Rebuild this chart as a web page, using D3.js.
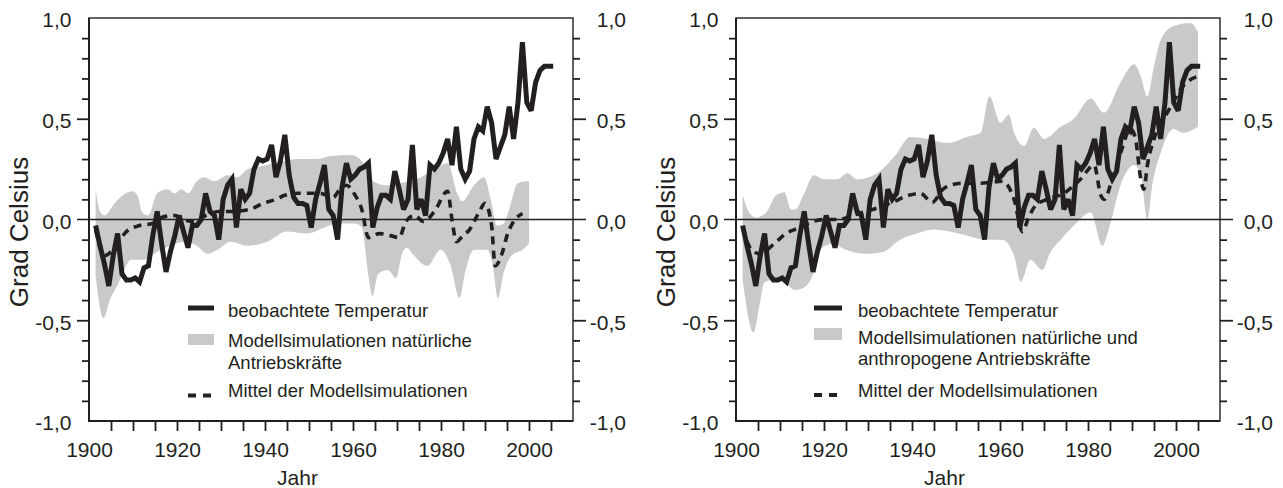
<!DOCTYPE html>
<html>
<head>
<meta charset="utf-8">
<script src="https://cdn.jsdelivr.net/npm/d3@7"></script>
<style>
body { margin: 0; background: #fff; }
text { font-family: Arial, "Liberation Sans", sans-serif; fill: #231f20; }
</style>
</head>
<body>
<svg id="chart" width="1283" height="488"></svg>
<script>
const obsYears = [
  1901, 1902, 1903, 1904, 1905, 1906, 1907, 1908, 1909, 1910,
  1911, 1912, 1913, 1914, 1915, 1916, 1917, 1918, 1919, 1920,
  1921, 1922, 1923, 1924, 1925, 1926, 1927, 1928, 1929, 1930,
  1931, 1932, 1933, 1934, 1935, 1936, 1937, 1938, 1939, 1940,
  1941, 1942, 1943, 1944, 1945, 1946, 1947, 1948, 1949, 1950,
  1951, 1952, 1953, 1954, 1955, 1956, 1957, 1958, 1959, 1960,
  1961, 1962, 1963, 1964, 1965, 1966, 1967, 1968, 1969, 1970,
  1971, 1972, 1973, 1974, 1975, 1976, 1977, 1978, 1979, 1980,
  1981, 1982, 1983, 1984, 1985, 1986, 1987, 1988, 1989, 1990,
  1991, 1992, 1993, 1994, 1995, 1996, 1997, 1998, 1999, 2000,
  2001, 2002, 2003, 2004, 2005
]
const obsTemp = [
  -0.03, -0.13, -0.22, -0.33, -0.18, -0.07, -0.27, -0.30, -0.30, -0.29,
  -0.31, -0.24, -0.23, -0.08, 0.04, -0.12, -0.26, -0.16, -0.08, 0.02,
  -0.06, -0.14, -0.03, -0.03, 0.00, 0.13, 0.04, 0.02, -0.10, 0.10,
  0.17, 0.20, -0.04, 0.15, 0.10, 0.13, 0.25, 0.30, 0.29, 0.30,
  0.37, 0.21, 0.29, 0.42, 0.22, 0.11, 0.08, 0.08, 0.07, -0.04,
  0.10, 0.18, 0.27, 0.05, 0.02, -0.10, 0.16, 0.28, 0.20, 0.22,
  0.25, 0.26, 0.28, -0.04, 0.06, 0.12, 0.12, 0.10, 0.24, 0.15,
  0.05, 0.10, 0.37, 0.05, 0.10, 0.02, 0.27, 0.25, 0.28, 0.33,
  0.40, 0.27, 0.46, 0.25, 0.20, 0.24, 0.40, 0.46, 0.44, 0.56,
  0.48, 0.30, 0.36, 0.42, 0.56, 0.40, 0.58, 0.88, 0.58, 0.54,
  0.68, 0.74, 0.76, 0.76, 0.76
]

// natural forcing only: range of simulations and their mean
const natUpperYears = [1901, 1902, 1903, 1905.5, 1907.5, 1909.3, 1910.5, 1911.6, 1913, 1915, 1917.3, 1919, 1920.5, 1922, 1924, 1925.6, 1928, 1931, 1933.2, 1935.5, 1937.8, 1942, 1946.8, 1951.5, 1954.3, 1959, 1961.9, 1963.5, 1967, 1970, 1974, 1978, 1981, 1983.2, 1984.3, 1987, 1989.3, 1990.8, 1992.2, 1993.7, 1995, 1996.9, 1998.7, 1999.5]
const natUpper = [0.15, 0.04, 0.02, 0.085, 0.125, 0.14, 0.12, 0.035, 0.02, 0.13, 0.15, 0.13, 0.15, 0.13, 0.19, 0.21, 0.19, 0.22, 0.21, 0.25, 0.26, 0.28, 0.30, 0.30, 0.315, 0.32, 0.28, 0.20, 0.17, 0.18, 0.20, 0.25, 0.28, 0.13, 0.09, 0.17, 0.21, 0.10, -0.03, -0.02, 0.05, 0.18, 0.19, 0.19]
const natLowerYears = [1901, 1902.8, 1904.4, 1905.9, 1907.5, 1909, 1912, 1915, 1918, 1921, 1924, 1926.4, 1928.7, 1931.7, 1935.5, 1940, 1944.5, 1949, 1953, 1956, 1960, 1961.5, 1963, 1963.9, 1965.2, 1967.4, 1969.3, 1970.8, 1971.8, 1973, 1976.4, 1979.4, 1981.7, 1983.7, 1985, 1987, 1990, 1991.2, 1992.4, 1993.8, 1995.5, 1998, 1999.5]
const natLower = [-0.28, -0.49, -0.39, -0.33, -0.25, -0.20, -0.20, -0.16, -0.13, -0.11, -0.13, -0.17, -0.15, -0.11, -0.13, -0.11, -0.06, -0.07, -0.04, -0.02, -0.02, -0.04, -0.28, -0.38, -0.27, -0.25, -0.29, -0.16, -0.14, -0.17, -0.23, -0.15, -0.23, -0.39, -0.26, -0.15, -0.15, -0.22, -0.39, -0.26, -0.18, -0.15, -0.12]
const natMeanYears = [1901, 1903, 1905, 1908, 1911, 1914, 1916, 1919, 1921, 1923, 1926, 1929, 1932, 1936, 1939, 1942, 1944, 1947, 1949, 1952, 1955, 1956.5, 1958, 1960, 1961.5, 1963, 1965.5, 1968, 1970, 1971.5, 1973.5, 1975.5, 1978, 1981, 1982, 1983, 1984.5, 1986, 1988, 1989.5, 1991, 1991.8, 1993.5, 1994.5, 1996, 1998]
const natMean = [-0.05, -0.18, -0.15, -0.06, -0.03, -0.02, 0.01, 0.02, 0.00, -0.01, 0.02, 0.04, 0.04, 0.05, 0.08, 0.10, 0.12, 0.13, 0.13, 0.13, 0.11, 0.15, 0.17, 0.12, 0.05, -0.09, -0.07, -0.08, -0.09, -0.01, 0.02, -0.01, 0.04, 0.14, 0.00, -0.11, -0.08, -0.05, 0.03, 0.08, -0.03, -0.23, -0.16, -0.08, -0.01, 0.03]

// natural + anthropogenic forcing
const allUpperYears = [1901, 1902.5, 1904, 1906.4, 1908.6, 1910.5, 1912, 1913, 1915, 1917.2, 1919.5, 1922.5, 1924.8, 1927, 1931.6, 1935.4, 1939.2, 1943, 1947.5, 1952, 1955.1, 1957.1, 1959.6, 1961.5, 1962.7, 1965, 1967.2, 1969.5, 1973.3, 1976.3, 1980.1, 1983.1, 1986.9, 1990, 1991.5, 1993, 1994.5, 1996, 1999, 2002.8, 2004.5]
const allUpper = [0.12, 0.035, 0.01, 0.035, 0.12, 0.135, 0.05, 0.05, 0.13, 0.22, 0.20, 0.20, 0.23, 0.20, 0.23, 0.31, 0.41, 0.40, 0.38, 0.41, 0.43, 0.61, 0.48, 0.52, 0.43, 0.365, 0.455, 0.40, 0.46, 0.50, 0.60, 0.53, 0.68, 0.77, 0.71, 0.61, 0.76, 0.89, 0.96, 0.975, 0.93]
const allLowerYears = [1901, 1903.5, 1904.8, 1906, 1908, 1910, 1912.8, 1914.7, 1917, 1918.5, 1921.5, 1924.5, 1929.2, 1933, 1936.8, 1940.6, 1944.3, 1948.1, 1952, 1955.7, 1960, 1962.7, 1964.2, 1966.4, 1969.1, 1971, 1973.3, 1976.3, 1980.1, 1982.8, 1984.2, 1986.9, 1990, 1991.5, 1993, 1994.1, 1996, 1999, 2001, 2004.5]
const allLower = [-0.30, -0.56, -0.43, -0.31, -0.30, -0.30, -0.35, -0.34, -0.27, -0.15, -0.12, -0.15, -0.17, -0.16, -0.10, -0.07, -0.05, -0.06, -0.08, -0.10, -0.10, -0.18, -0.31, -0.20, -0.25, -0.16, -0.10, -0.03, 0.035, -0.13, -0.05, 0.17, 0.27, 0.22, 0.00, 0.17, 0.33, 0.45, 0.43, 0.46]
const allMeanYears = [1901, 1903, 1905, 1907.7, 1910.8, 1914, 1916.8, 1920, 1922.9, 1925.9, 1929, 1932, 1935, 1938.8, 1941.4, 1944.1, 1946.5, 1948.1, 1951.2, 1955, 1960, 1962.7, 1964.6, 1966, 1967.6, 1970.2, 1974, 1977.8, 1980.9, 1982.4, 1983.2, 1985, 1986.9, 1989.2, 1990.3, 1991.5, 1992.2, 1993, 1994.5, 1996, 1998.3, 2001, 2002.5, 2004.4]
const allMean = [-0.04, -0.15, -0.17, -0.13, -0.07, -0.04, -0.01, 0.00, 0.00, 0.02, 0.04, 0.06, 0.085, 0.12, 0.13, 0.085, 0.15, 0.17, 0.18, 0.18, 0.19, 0.10, -0.06, 0.01, 0.07, 0.10, 0.13, 0.20, 0.27, 0.12, 0.10, 0.20, 0.33, 0.45, 0.40, 0.20, 0.15, 0.27, 0.40, 0.47, 0.56, 0.66, 0.69, 0.71]

// axis ticks and labels
const xTicks = [1905, 1910, 1915, 1920, 1925, 1930, 1935, 1940, 1945, 1950, 1955, 1960, 1965, 1970, 1975, 1980, 1985, 1990, 1995, 2000, 2005]
const xLabels = [1900, 1920, 1940, 1960, 1980, 2000]
const yMinor = [-0.9, -0.8, -0.7, -0.6, -0.4, -0.3, -0.2, -0.1, 0.1, 0.2, 0.3, 0.4, 0.6, 0.7, 0.8, 0.9]
const yMajor = [-0.5, 0.5]
const yLabels = [-1, -0.5, 0, 0.5, 1]

const legendObs = "beobachtete Temperatur"
const legendMean = "Mittel der Modellsimulationen"

let panels = [
    {left: 89, upYears: natUpperYears, up: natUpper, loYears: natLowerYears, lo: natLower,
     meanYears: natMeanYears, mean: natMean,
     bandText: ["Modellsimulationen natürliche", "Antriebskräfte"],
     leg: {x0: 99, x1: 125, tx: 139, lineY: 290, rectY: 316, rectH: 11, rowY: [299, 329, 351, 378.5], dashY: 377.5}},
    {left: 736, upYears: allUpperYears, up: allUpper, loYears: allLowerYears, lo: allLower,
     meanYears: allMeanYears, mean: allMean,
     bandText: ["Modellsimulationen natürliche und", "anthropogene Antriebskräfte"],
     leg: {x0: 78, x1: 106, tx: 122, lineY: 290, rectY: 310, rectH: 12, rowY: [299, 326, 346.5, 378.5], dashY: 377}}
]

let W = 484, H = 403, top_ = 18
let ink = "#231f20"
let grey = "#c8c9cb"

let x = d3.scaleLinear().domain([1900, 2010]).range([0, W])
let y = d3.scaleLinear().domain([-1, 1]).range([H, 0])

// annual values are plotted at the middle of the year
let line = d3.line().x(d => x(d[0] + 0.5)).y(d => y(d[1]))
let smooth = d3.line().x(d => x(d[0] + 0.5)).y(d => y(d[1])).curve(d3.curveMonotoneX)
let fmt = d => d.toFixed(1).replace(".", ",")

let svg = d3.select("#chart")

function band_path(p) {
    let up = p.upYears.map((yr, i) => [yr, p.up[i]])
    let lo = p.loYears.map((yr, i) => [yr, p.lo[i]]).reverse()
    let a = smooth(up)
    let b = d3.line().x(d => x(d[0] + 0.5)).y(d => y(d[1])).curve(d3.curveMonotoneX)(lo)
    return a + "L" + b.slice(1) + "Z"
}

function style_axis(g) {
    g.select(".domain").remove()
    g.selectAll("line").attr("stroke", ink).attr("stroke-width", 1.8)
    g.attr("font-size", 21).attr("font-family", null)
}

function draw_panel(p) {
    let g = svg.append("g").attr("transform", `translate(${p.left},${top_})`)

    g.append("path").attr("d", band_path(p)).attr("fill", grey)

    g.append("line")
        .attr("x1", -12).attr("x2", W + 13)
        .attr("y1", y(0)).attr("y2", y(0))
        .attr("stroke", ink).attr("stroke-width", 1.6)

    g.append("path")
        .datum(p.meanYears.map((yr, i) => [yr, p.mean[i]]))
        .attr("d", smooth)
        .attr("fill", "none")
        .attr("stroke", ink)
        .attr("stroke-width", 3.6)
        .attr("stroke-dasharray", "8,6")

    g.append("path")
        .datum(obsYears.map((yr, i) => [yr, obsTemp[i]]))
        .attr("d", line)
        .attr("fill", "none")
        .attr("stroke", ink)
        .attr("stroke-width", 5)
        .attr("stroke-linejoin", "miter")
        .attr("stroke-miterlimit", 3)

    // frame
    g.append("rect").attr("width", W).attr("height", H)
        .attr("fill", "none").attr("stroke", ink).attr("stroke-width", 1.4)
    g.append("path").attr("d", `M0,0V${H}H${W}`)
        .attr("fill", "none").attr("stroke", ink).attr("stroke-width", 2)

    // y axes, left and right
    g.append("g").call(d3.axisLeft(y).tickValues(yMinor).tickSize(7).tickFormat("")).call(style_axis)
    g.append("g").call(d3.axisLeft(y).tickValues(yMajor).tickSize(12).tickFormat("")).call(style_axis)
    g.append("g").call(d3.axisLeft(y).tickValues(yLabels).tickSize(0).tickPadding(17.5).tickFormat(fmt))
        .call(style_axis)
        .selectAll("text").attr("dy", "0.42em")

    let r = g.append("g").attr("transform", `translate(${W},0)`)
    r.append("g").call(d3.axisRight(y).tickValues(yMinor).tickSize(7).tickFormat("")).call(style_axis)
    r.append("g").call(d3.axisRight(y).tickValues(yMajor).tickSize(13).tickFormat("")).call(style_axis)
    r.append("g").call(d3.axisRight(y).tickValues(yLabels).tickSize(0).tickFormat(fmt))
        .call(style_axis)
        .selectAll("text").attr("x", 53).attr("dy", "0.42em").attr("text-anchor", "end")

    // x axis
    let b = g.append("g").attr("transform", `translate(0,${H})`)
    b.append("g").call(d3.axisBottom(x).tickValues(xTicks).tickSize(10).tickFormat("")).call(style_axis)
    b.append("g").call(d3.axisBottom(x).tickValues(xLabels).tickSize(0).tickPadding(21).tickFormat(d3.format("d")))
        .call(style_axis)

    g.append("text")
        .attr("x", 208.5).attr("y", 467)
        .attr("text-anchor", "middle")
        .attr("font-size", 21)
        .text("Jahr")

    g.append("text")
        .attr("transform", `translate(-61,${232 - top_}) rotate(-90)`)
        .attr("text-anchor", "middle")
        .attr("font-size", 26)
        .text("Grad Celsius")

    // legend
    let L = p.leg
    let lg = g.append("g").attr("font-size", 18.5)
    lg.append("line").attr("x1", L.x0).attr("x2", L.x1).attr("y1", L.lineY).attr("y2", L.lineY)
        .attr("stroke", ink).attr("stroke-width", 5)
    lg.append("rect").attr("x", L.x0).attr("y", L.rectY).attr("width", L.x1 - L.x0).attr("height", L.rectH)
        .attr("fill", grey)
    lg.append("line").attr("x1", L.x0).attr("x2", L.x1 - 2).attr("y1", L.dashY).attr("y2", L.dashY)
        .attr("stroke", ink).attr("stroke-width", 4).attr("stroke-dasharray", "8,7")
    let rows = [legendObs, p.bandText[0], p.bandText[1], legendMean]
    lg.selectAll("text.leg")
        .data(rows)
        .enter()
        .append("text")
        .classed("leg", true)
        .attr("x", L.tx)
        .attr("y", (d, i) => L.rowY[i])
        .text(d => d)
}

panels.forEach(draw_panel)
</script>
</body>
</html>
